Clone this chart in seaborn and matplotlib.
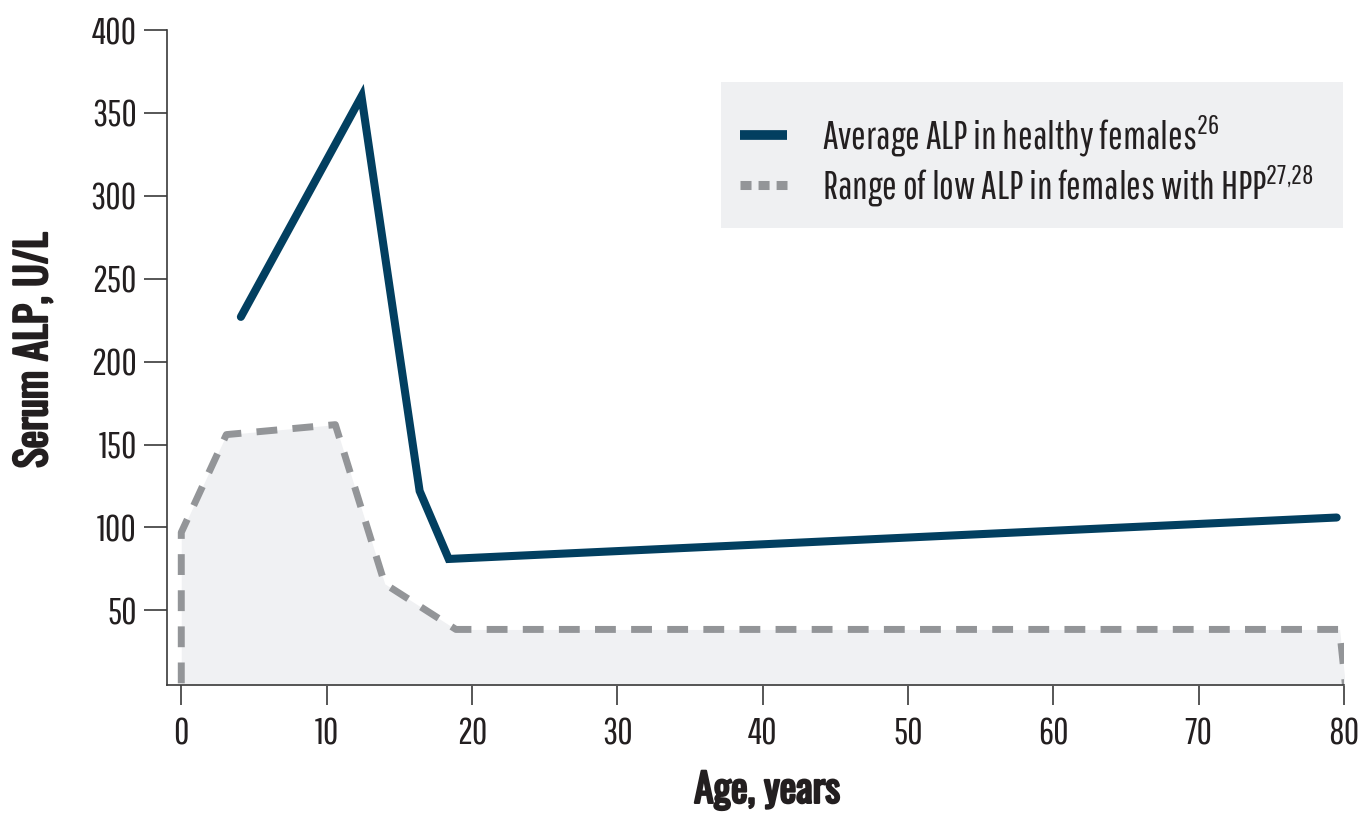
import matplotlib
matplotlib.use("Agg")
import matplotlib.pyplot as plt
import matplotlib.patheffects as pe
from matplotlib.lines import Line2D
from matplotlib.patches import Rectangle
import seaborn as sns
import pandas as pd

# ---- data ----
healthy_age = [4.1, 12.4, 16.4, 18.4, 79.5]
healthy_alp = [227, 360, 122, 81, 106]

hpp_age = [0.0, 0.0, 3.1, 10.6, 14.0, 18.9, 79.7, 80.1]
hpp_alp = [6, 97, 156, 162, 66, 38.5, 38.5, 5]

x_ticks = [0, 10, 20, 30, 40, 50, 60, 70, 80]
y_ticks = [50, 100, 150, 200, 250, 300, 350, 400]

label_healthy = "Average ALP in healthy females$^{26}$"
label_hpp = "Range of low ALP in females with HPP$^{27{,}28}$"
x_label = "Age, years"
y_label = "Serum ALP, U/L"

# ---- style ----
BLUE = "#023f60"
GRAY = "#939598"
FILL = "#f0f1f3"
SPINE = "#3a3a3a"
TEXT = "#231f20"
TICK_FONT = "Pathway Gothic One"
BOLD_FONT = "Oswald"

sns.set_theme(style="ticks")
plt.rcParams["font.family"] = [TICK_FONT, "DejaVu Sans"]
plt.rcParams["mathtext.fontset"] = "custom"
plt.rcParams["mathtext.rm"] = TICK_FONT
plt.rcParams["mathtext.it"] = TICK_FONT
plt.rcParams["mathtext.bf"] = TICK_FONT

fig = plt.figure(figsize=(13.69, 8.14), dpi=100)
ax = fig.add_axes([0.1218, 0.1585, 0.9817 - 0.1218, 0.9631 - 0.1585])

df_h = pd.DataFrame({"age": healthy_age, "alp": healthy_alp})
df_p = pd.DataFrame({"age": hpp_age, "alp": hpp_alp})

ax.fill_between(hpp_age, hpp_alp, 0, color=FILL, linewidth=0, zorder=1)
sns.lineplot(data=df_p, x="age", y="alp", sort=False, estimator=None, ax=ax,
             color=GRAY, linewidth=5.0, dashes=False, zorder=2)
ax.lines[-1].set_dashes([3.0, 2.2])
ax.lines[-1].set_dash_capstyle("butt")
sns.lineplot(data=df_h, x="age", y="alp", sort=False, estimator=None, ax=ax,
             color=BLUE, linewidth=5.8, zorder=3)
ax.lines[-1].set_solid_joinstyle("miter")

ax.set_xlim(-1.0, 80.0)
ax.set_ylim(5, 400)
ax.set_xticks(x_ticks)
ax.set_yticks(y_ticks)
ax.set_xticklabels([str(v) for v in x_ticks])
ax.set_yticklabels([str(v) for v in y_ticks])

for s in ["top", "right"]:
    ax.spines[s].set_visible(False)
for s in ["left", "bottom"]:
    ax.spines[s].set_color(SPINE)
    ax.spines[s].set_linewidth(1.2)

ax.tick_params(axis="y", direction="out", length=16.5, width=1.2, color=SPINE,
               pad=5, labelsize=27, labelcolor=TEXT)
ax.tick_params(axis="x", direction="out", length=14.5, width=1.2, color=SPINE,
               pad=8, labelsize=27, labelcolor=TEXT)

bold_fx = [pe.withStroke(linewidth=1.6, foreground=TEXT)]
ax.set_xlabel(x_label, fontfamily=BOLD_FONT, fontsize=28.5, color=TEXT,
              va="baseline", path_effects=bold_fx)
ax.xaxis.set_label_coords(0.510, -0.180)
ax.set_ylabel(y_label, fontfamily=BOLD_FONT, fontsize=30, color=TEXT,
              va="baseline", path_effects=bold_fx)
ax.yaxis.set_label_coords(-0.1017, 0.511)

# legend box
ax.add_patch(Rectangle((0.471, 0.698), 0.528, 0.223, transform=ax.transAxes,
                       facecolor="#eff0f2", edgecolor="none", zorder=4))
h1 = Line2D([], [], color=BLUE, linewidth=7, solid_capstyle="butt")
h2 = Line2D([], [], color=GRAY, linewidth=6.5, dashes=[1.22, 0.78], dash_capstyle="butt")
leg = ax.legend([h1, h2], [label_healthy, label_hpp], loc="upper left",
                bbox_to_anchor=(0.4873, 0.875), frameon=False, fontsize=28.2,
                handlelength=1.2, handletextpad=0.89, labelspacing=0.1,
                borderaxespad=0, borderpad=0)
leg.set_zorder(5)
for t in leg.get_texts():
    t.set_color(TEXT)

fig.savefig("out.png", dpi=100)
